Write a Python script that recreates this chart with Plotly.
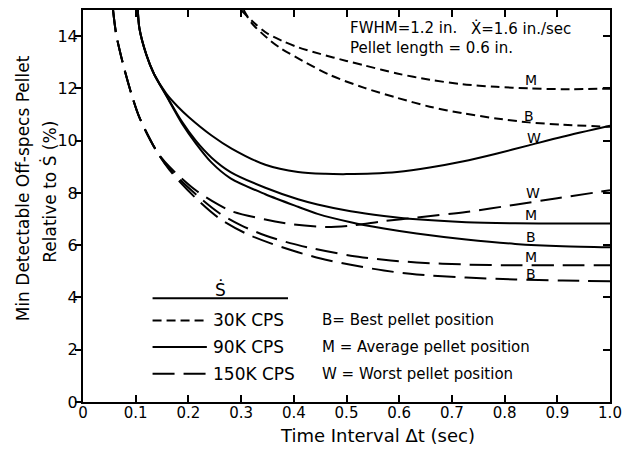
import plotly.graph_objects as go

# ---------------- data ----------------
# 30K CPS (short dashes)
x_30k_M = [0.30, 0.325, 0.35, 0.38, 0.41, 0.45, 0.50, 0.534, 0.596, 0.658, 0.72, 0.784, 0.846, 0.91, 1.0]
y_30k_M = [15.0, 14.5, 14.1, 13.8, 13.56, 13.32, 13.05, 12.88, 12.57, 12.33, 12.16, 12.06, 12.0, 11.97, 11.99]
x_30k_B = [0.305, 0.32, 0.35, 0.374, 0.417, 0.47, 0.534, 0.596, 0.658, 0.72, 0.784, 0.846, 0.91, 1.0]
y_30k_B = [15.0, 14.5, 13.92, 13.55, 13.05, 12.5, 12.02, 11.64, 11.3, 11.05, 10.85, 10.7, 10.61, 10.53]

# 90K CPS (solid)
x_90k_W = [0.104, 0.107, 0.12, 0.135, 0.158, 0.18, 0.201, 0.244, 0.282, 0.346, 0.408, 0.46, 0.50, 0.55,
           0.596, 0.658, 0.72, 0.784, 0.846, 0.91, 1.0]
y_90k_W = [15.0, 14.3, 13.3, 12.54, 11.8, 11.3, 10.9, 10.2, 9.7, 9.08, 8.8, 8.73, 8.72, 8.74,
           8.8, 8.97, 9.2, 9.5, 9.82, 10.15, 10.57]
x_90k_M = [0.104, 0.107, 0.12, 0.135, 0.158, 0.188, 0.214, 0.244, 0.28, 0.346, 0.408, 0.445,
           0.508, 0.571, 0.633, 0.727, 0.82, 0.91, 1.0]
y_90k_M = [15.0, 14.3, 13.3, 12.54, 11.74, 10.72, 10.0, 9.35, 8.8, 8.2, 7.76, 7.56,
           7.3, 7.12, 6.99, 6.88, 6.84, 6.83, 6.83]
x_90k_B = [0.104, 0.107, 0.12, 0.135, 0.158, 0.188, 0.214, 0.244, 0.28, 0.346, 0.408, 0.445,
           0.508, 0.571, 0.633, 0.727, 0.82, 0.91, 1.0]
y_90k_B = [15.0, 14.3, 13.3, 12.54, 11.72, 10.65, 9.9, 9.16, 8.56, 7.95, 7.47, 7.2,
           6.88, 6.64, 6.45, 6.22, 6.05, 5.96, 5.92]

# 150K CPS (long dashes)
x_150k_W = [0.057, 0.063, 0.076, 0.092, 0.107, 0.139, 0.164, 0.214, 0.257, 0.282, 0.346, 0.40,
            0.46, 0.508, 0.571, 0.633, 0.727, 0.82, 0.90, 1.0]
y_150k_W = [15.0, 14.07, 12.93, 11.78, 10.89, 9.62, 9.0, 8.1, 7.55, 7.3, 6.98, 6.79,
            6.7, 6.75, 6.92, 7.06, 7.27, 7.55, 7.8, 8.1]
x_150k_M = [0.057, 0.063, 0.076, 0.092, 0.107, 0.139, 0.164, 0.214, 0.257, 0.30, 0.346, 0.393,
            0.44, 0.508, 0.571, 0.633, 0.727, 0.82, 0.91, 1.0]
y_150k_M = [15.0, 14.07, 12.93, 11.78, 10.89, 9.62, 8.92, 7.95, 7.25, 6.76, 6.37, 6.08,
            5.86, 5.6, 5.44, 5.34, 5.26, 5.23, 5.23, 5.23]
x_150k_B = [0.057, 0.063, 0.076, 0.092, 0.107, 0.139, 0.164, 0.214, 0.257, 0.308, 0.355, 0.408,
            0.451, 0.508, 0.571, 0.633, 0.727, 0.82, 0.91, 1.0]
y_150k_B = [15.0, 14.07, 12.93, 11.78, 10.89, 9.62, 8.88, 7.8, 7.05, 6.46, 6.08, 5.73,
            5.49, 5.25, 5.03, 4.88, 4.76, 4.69, 4.65, 4.62]

x_ticks = [0, 0.1, 0.2, 0.3, 0.4, 0.5, 0.6, 0.7, 0.8, 0.9, 1.0]
x_tick_labels = ["0", "0.1", "0.2", "0.3", "0.4", "0.5", "0.6", "0.7", "0.8", "0.9", "1.0"]
y_ticks = [0, 2, 4, 6, 8, 10, 12, 14]

# curve letters: (text, x, y)
curve_labels = [("M", 0.85, 12.32), ("B", 0.846, 10.95), ("W", 0.855, 10.12),
                ("W", 0.853, 7.98), ("M", 0.85, 7.16), ("B", 0.85, 6.3),
                ("M", 0.85, 5.55), ("B", 0.85, 4.9)]

rate_labels = ["30K CPS", "90K CPS", "150K CPS"]
position_labels = ["B= Best pellet position", "M = Average pellet position",
                   "W = Worst pellet position"]

# ---------------- figure ----------------
SHORT = "9px,5px"
LONG = "22px,9px"
FONT = "DejaVu Sans"

fig = go.Figure()

series = [
    (x_30k_M, y_30k_M, SHORT), (x_30k_B, y_30k_B, SHORT),
    (x_90k_W, y_90k_W, "solid"), (x_90k_M, y_90k_M, "solid"), (x_90k_B, y_90k_B, "solid"),
    (x_150k_W, y_150k_W, LONG), (x_150k_M, y_150k_M, LONG), (x_150k_B, y_150k_B, LONG),
]
for xs, ys, dash in series:
    fig.add_trace(go.Scatter(x=xs, y=ys, mode="lines",
                             line=dict(color="black", width=2, dash=dash, shape="spline", smoothing=0.8),
                             showlegend=False, hoverinfo="skip"))

# invisible trace for the right-hand tick axis
fig.add_trace(go.Scatter(x=[0.5], y=[0.5], yaxis="y2", mode="markers",
                         marker=dict(opacity=0), showlegend=False, hoverinfo="skip"))

annotations = []
for t, x, y in curve_labels:
    annotations.append(dict(x=x, y=y, xref="x", yref="y", text=t, showarrow=False,
                            font=dict(family=FONT, size=14, color="black")))

# header text
annotations += [
    dict(x=0.502, y=14.31, xref="x", yref="y", text="FWHM=1.2 in.", showarrow=False,
         xanchor="left", font=dict(family=FONT, size=15, color="black")),
    dict(x=0.733, y=14.31, xref="x", yref="y", text="Ẋ=1.6 in./sec", showarrow=False,
         xanchor="left", font=dict(family=FONT, size=15, color="black")),
    dict(x=0.502, y=13.55, xref="x", yref="y", text="Pellet length = 0.6 in.", showarrow=False,
         xanchor="left", font=dict(family=FONT, size=15, color="black")),
]

# key
row_y = [3.12, 2.1, 1.08]
annotations.append(dict(x=0.261, y=4.3, xref="x", yref="y", text="Ṡ", showarrow=False,
                        font=dict(family=FONT, size=17, color="black")))
shapes = [dict(type="line", xref="x", yref="y", x0=0.132, x1=0.389, y0=3.97, y1=3.97,
               line=dict(color="black", width=2))]
for lab, pos, yy, dash in zip(rate_labels, position_labels, row_y, [SHORT, "solid", LONG]):
    shapes.append(dict(type="line", xref="x", yref="y", x0=0.132, x1=0.235, y0=yy, y1=yy,
                       line=dict(color="black", width=2, dash=dash)))
    annotations.append(dict(x=0.243, y=yy, xref="x", yref="y", text=lab, showarrow=False,
                            xanchor="left", font=dict(family=FONT, size=17, color="black")))
    annotations.append(dict(x=0.449, y=yy, xref="x", yref="y", text=pos, showarrow=False,
                            xanchor="left", font=dict(family=FONT, size=15, color="black")))

# axis titles
annotations += [
    dict(x=-0.114, y=0.545, xref="paper", yref="paper", text="Min Detectable Off-specs Pellet",
         textangle=-90, showarrow=False, xanchor="center", yanchor="middle",
         font=dict(family=FONT, size=17, color="black")),
    dict(x=-0.064, y=0.537, xref="paper", yref="paper", text="Relative to Ṡ (%)",
         textangle=-90, showarrow=False, xanchor="center", yanchor="middle",
         font=dict(family=FONT, size=17, color="black")),
    dict(x=0.558, y=-0.086, xref="paper", yref="paper", text="Time Interval Δt (sec)",
         showarrow=False, xanchor="center", yanchor="middle",
         font=dict(family=FONT, size=18, color="black")),
]

fig.update_layout(
    width=630, height=450,
    margin=dict(l=83, r=13, t=8, b=48),
    paper_bgcolor="white", plot_bgcolor="white",
    font=dict(family=FONT, color="black"),
    xaxis=dict(range=[0, 1.0], tickvals=x_ticks, ticktext=x_tick_labels,
               ticks="inside", ticklen=7, tickwidth=2, tickcolor="black",
               showline=True, linecolor="black", linewidth=2, mirror="ticks",
               ticklabelstandoff=-4, ticklabeloverflow="allow",
               showgrid=False, zeroline=False, tickfont=dict(family=FONT, size=15, color="black")),
    yaxis=dict(range=[0, 15], tickvals=y_ticks, ticks="outside", ticklen=6, tickwidth=2,
               tickcolor="black", showline=True, linecolor="black", linewidth=2, mirror=True,
               ticklabelstandoff=-6,
               showgrid=False, zeroline=False, tickfont=dict(family=FONT, size=16, color="black")),
    yaxis2=dict(range=[0, 15], tickvals=y_ticks, overlaying="y", side="right",
                ticks="inside", ticklen=7, tickwidth=2, tickcolor="black",
                showticklabels=False, showline=False, showgrid=False, zeroline=False),
    annotations=annotations,
    shapes=shapes,
    showlegend=False,
)

# the page body has a default 8px margin; remove it so the figure sits at the window origin
fig.write_html("out.html", config={"displayModeBar": False},
               post_script="document.body.style.margin='0';")
